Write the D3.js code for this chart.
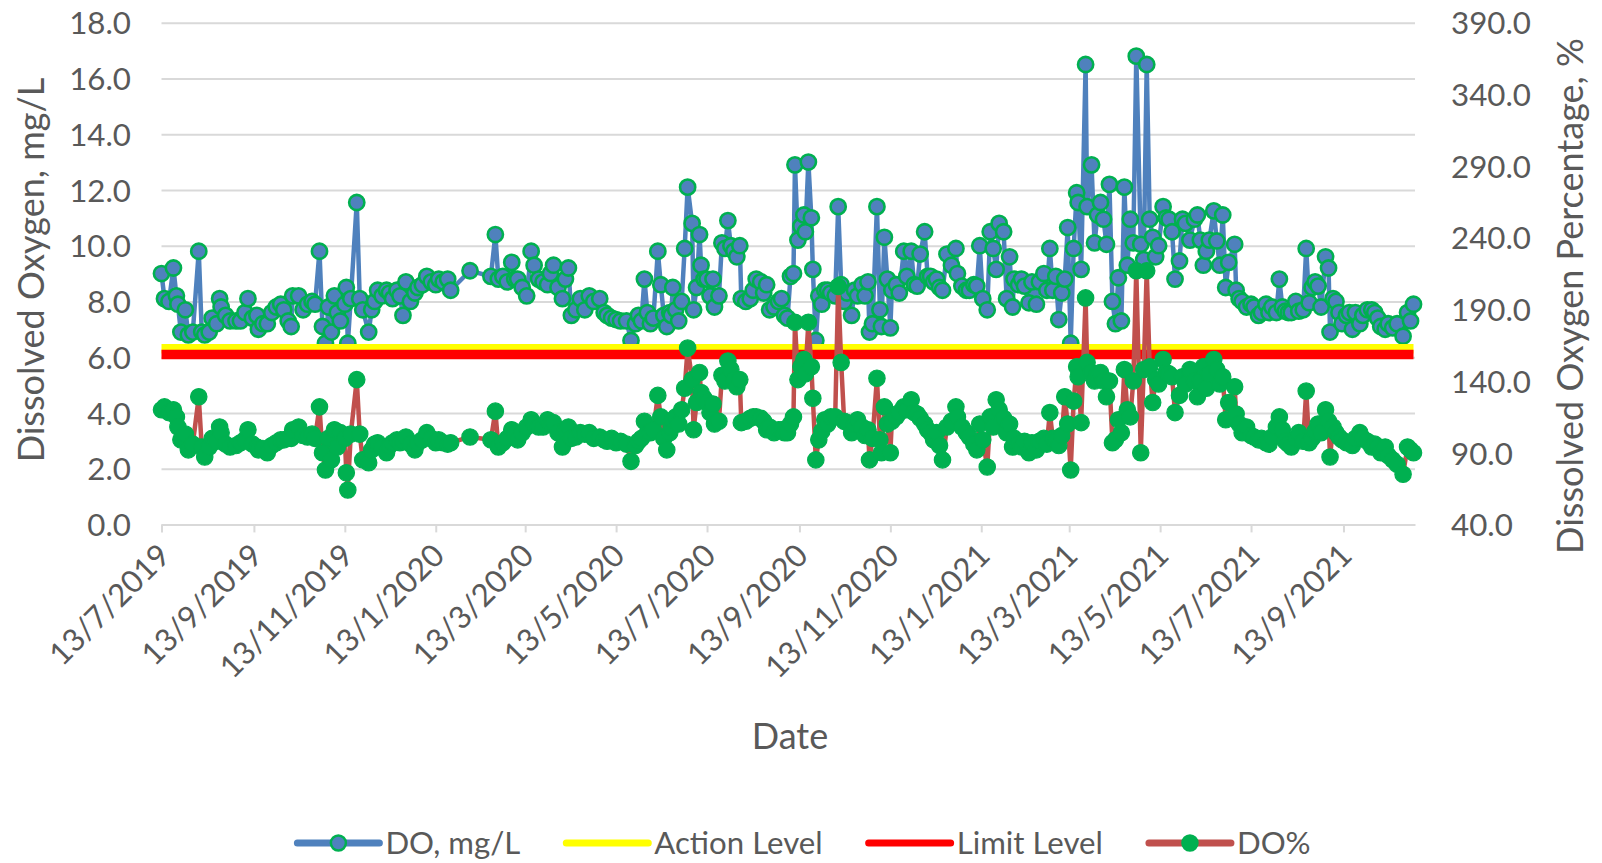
<!DOCTYPE html>
<html>
<head>
<meta charset="utf-8">
<script src="https://cdn.jsdelivr.net/npm/d3@7"></script>
<style>
  html, body { margin: 0; padding: 0; background: #ffffff; }
  svg { display: block; }
</style>
</head>
<body>
<svg id="chart" width="1602" height="863"></svg>
<script>
// ---- Monitoring record: dissolved oxygen (mg/L) and saturation (%) ----
const firstSampleDate = "2019-07-13";
const axisEndDate = "2021-10-31";

// Sampling days, counted from the first sample date
const sampleDayOffsets = [
  0,2,5,8,10,11,13,16,18,21,
  25,27,29,32,34,37,39,40,43,46,
  50,53,56,58,61,64,65,68,71,74,
  77,80,82,85,87,88,92,95,98,101,
  103,106,108,110,112,114,116,118,120,123,
  124,125,127,131,133,135,139,141,143,145,
  148,151,153,155,158,160,162,164,167,170,
  172,175,178,181,184,186,189,192,194,207,
  221,224,226,229,232,235,237,239,242,245,
  248,250,253,256,259,261,263,266,269,271,
  273,275,278,281,284,287,290,294,297,299,
  302,305,308,312,315,318,320,322,324,326,
  328,330,333,335,337,339,341,342,343,345,
  347,349,351,353,356,357,359,361,362,364,
  366,368,370,371,374,376,378,380,382,384,
  386,388,389,392,395,397,399,402,404,406,
  408,411,414,416,418,420,422,424,425,427,
  429,431,432,434,436,437,439,441,443,445,
  447,449,452,454,456,458,460,463,465,467,
  470,472,474,475,477,480,482,483,485,487,
  489,490,493,495,498,500,503,505,507,509,
  512,514,516,518,520,522,524,527,530,533,
  534,537,540,542,545,547,549,551,554,556,
  558,560,562,565,567,569,571,572,575,577,
  579,582,584,587,589,592,594,596,598,600,
  602,604,606,608,610,612,614,615,617,620,
  621,624,626,628,630,632,634,636,638,640,
  642,644,646,648,650,652,654,657,659,661,
  663,665,667,669,672,674,676,678,680,683,
  685,687,690,693,695,697,699,701,703,706,
  708,710,712,714,716,720,721,723,725,728,
  731,733,736,738,741,743,745,748,750,752,
  754,756,758,761,763,766,768,770,772,774,
  776,778,781,783,784,786,788,790,792,795,
  797,799,801,804,806,809,812,814,816,818,
  821,823,826,829,833,836,838,840
];

// DO, mg/L
const doMgL = [
  9.0,8.1,8.0,9.2,8.2,7.9,6.9,7.7,6.8,6.9,
  9.8,6.9,6.8,6.9,7.4,7.2,8.1,7.8,7.5,7.3,
  7.3,7.3,7.6,8.1,7.4,7.5,7.0,7.2,7.2,7.6,
  7.8,7.9,7.7,7.3,7.1,8.2,8.2,7.7,7.9,8.0,
  7.9,9.8,7.1,6.5,7.8,6.9,8.2,7.6,7.3,7.9,
  8.5,6.5,8.1,11.55,8.1,7.7,6.9,7.7,8.0,8.4,
  8.2,8.4,8.3,8.1,8.4,8.2,7.5,8.7,8.0,8.3,
  8.5,8.6,8.9,8.7,8.6,8.8,8.7,8.8,8.4,9.1,
  8.9,10.4,8.8,8.9,8.7,9.4,8.8,8.8,8.5,8.2,
  9.8,9.3,8.8,8.7,8.6,9.0,9.3,8.5,8.1,8.8,
  9.2,7.5,7.7,8.1,7.7,8.2,8.0,8.1,7.6,7.5,
  7.4,7.35,7.3,7.3,6.6,7.2,7.5,7.3,8.8,7.6,
  7.2,7.4,9.8,8.6,7.5,7.1,7.6,7.5,8.5,7.7,
  7.3,8.0,9.9,12.1,10.8,7.7,8.5,10.4,9.3,8.8,
  8.8,8.2,8.8,7.8,8.2,10.1,9.9,10.9,10.0,9.8,
  9.6,10.0,8.1,8.0,8.1,8.4,8.8,8.7,8.3,8.6,
  7.7,7.8,8.0,8.1,7.5,7.4,8.9,9.0,12.9,10.2,
  10.7,11.1,10.5,13.0,11.0,9.15,6.6,8.2,7.9,8.4,
  8.4,8.3,8.2,11.4,8.6,8.0,8.3,7.5,8.4,8.2,
  8.6,8.2,8.7,6.9,7.2,11.4,7.7,7.1,10.3,8.8,
  7.05,8.4,8.6,8.3,9.8,8.9,9.8,8.6,8.55,9.7,
  10.5,8.9,8.9,8.7,8.8,8.5,8.4,9.7,9.3,9.9,
  9.0,8.55,8.4,8.4,8.6,8.55,10.0,8.1,7.7,10.5,
  9.9,9.15,10.8,10.5,8.1,9.6,7.8,8.8,8.6,8.8,
  8.55,7.95,8.7,7.9,8.7,9.0,8.4,9.9,8.4,8.9,
  7.35,8.3,8.8,10.65,6.5,9.9,11.9,11.55,9.15,16.5,
  11.4,12.9,10.1,11.1,11.55,10.95,10.05,12.2,8.0,7.2,
  8.85,7.3,12.1,9.3,10.95,10.1,16.8,10.05,9.5,16.5,
  10.95,10.3,9.6,10.0,11.4,11.0,10.95,10.5,8.8,9.45,
  10.95,10.8,10.2,10.95,11.1,10.2,9.3,9.8,10.2,11.25,
  10.17,9.3,11.1,8.5,9.4,10.05,8.4,8.1,8.0,7.8,
  7.9,7.8,7.5,7.6,7.9,7.6,7.8,7.6,8.8,7.8,
  7.65,7.6,7.6,8.0,7.65,7.7,9.9,7.95,8.5,8.7,
  8.55,7.8,9.6,9.2,6.9,8.1,8.0,7.6,7.2,7.5,
  7.6,7.0,7.6,7.2,7.5,7.7,7.7,7.6,7.4,7.1,
  7.0,7.2,7.05,7.2,6.75,7.6,7.3,7.9
];

// DO%, saturation
const doPercent = [
  120,122,118,120,115,108,99,103,92,96,
  129,94,87,94,100,98,108,104,96,94,
  95,97,99,106,96,94,92,93,90,95,
  97,99,99,100,100,106,108,102,101,103,
  100,122,90,78,100,85,106,94,104,100,
  76,64,103,141,103,85,83,92,96,97,
  94,90,95,97,99,97,98,101,96,92,
  97,99,104,100,97,99,97,96,97,101,
  99,119,94,97,100,106,103,99,104,108,
  113,110,108,108,113,110,111,104,94,106,
  108,100,101,104,103,104,100,101,99,98,
  100,97,98,96,84,95,98,100,112,104,
  104,106,130,115,100,92,104,108,113,115,
  110,120,135,163,141,106,125,146,132,128,
  125,118,124,110,112,144,140,154,148,141,
  136,141,111,112,114,115,115,114,112,106,
  108,104,106,106,104,104,110,115,181,141,
  150,155,145,181,150,128,85,99,105,113,
  110,115,115,206,153,112,111,104,110,113,
  108,102,106,85,100,142,99,90,122,110,
  90,112,115,118,122,120,127,118,117,114,
  110,106,104,99,104,95,85,108,112,122,
  115,108,104,101,96,92,110,99,80,115,
  108,127,120,114,104,110,94,100,96,94,
  98,90,97,92,98,100,96,118,100,98,
  95,102,129,110,78,126,150,143,111,198,
  153,146,140,145,146,140,129,140,97,99,
  113,104,148,120,115,140,217,90,148,217,
  150,125,141,138,155,146,145,143,118,130,
  143,138,148,140,129,140,150,135,145,155,
  148,138,143,113,125,136,117,110,104,108,
  102,101,99,100,97,96,101,108,115,106,
  98,96,94,100,104,98,133,97,100,105,
  110,104,120,112,87,108,104,101,99,97,
  97,95,100,104,100,98,94,96,94,90,
  94,88,85,82,75,94,92,90
];

// Compliance levels, mg/L
const actionLevel = 6.3;
const limitLevel = 6.1;

// Axis ticks
const leftTicks = [0, 2, 4, 6, 8, 10, 12, 14, 16, 18];
const rightTicks = [40, 90, 140, 190, 240, 290, 340, 390];
const dateTickLabels = [
  "13/7/2019", "13/9/2019", "13/11/2019", "13/1/2020", "13/3/2020", "13/5/2020",
  "13/7/2020", "13/9/2020", "13/11/2020", "13/1/2021", "13/3/2021", "13/5/2021",
  "13/7/2021", "13/9/2021"
];

// ---- Layout ----
const svg = d3.select("#chart");
const FONT = "Lato, 'Open Sans', 'DejaVu Sans', sans-serif";
const TEXT = "#595959";
const GRID = "#D9D9D9";
const plot = { left: 161.5, right: 1415, top: 22.7, bottom: 524.4 };

// font size that gives a sample string a given rendered width
function fitSize(sample, target, base = 30) {
  const t = svg.append("text").attr("font-family", FONT).attr("font-size", base).text(sample);
  const w = t.node().getComputedTextLength();
  t.remove();
  return base * target / w;
}
const tickSize = fitSize("390.0", 80);
const titleSize = fitSize("Dissolved Oxygen Percentage, %", 516);
const legendSize = fitSize("DO, mg/L", 135);

const parseIso = d3.utcParse("%Y-%m-%d");
const parseDmy = d3.utcParse("%d/%m/%Y");
const start = parseIso(firstSampleDate);
const n = Math.min(sampleDayOffsets.length, doMgL.length, doPercent.length);
const rows = d3.range(n).map(i => ({
  date: d3.utcDay.offset(start, sampleDayOffsets[i]),
  mg: doMgL[i],
  pct: doPercent[i]
}));

const x = d3.scaleUtc().domain([start, parseIso(axisEndDate)]).range([plot.left, plot.right]);
const yL = d3.scaleLinear().domain([0, 18]).range([plot.bottom, plot.top]);
const yR = d3.scaleLinear().domain([40, 390]).range([plot.bottom, plot.top]);

// ---- Gridlines and left axis ----
const gLeft = svg.append("g").attr("transform", `translate(${plot.left},0)`)
  .call(d3.axisLeft(yL).tickValues(leftTicks).tickFormat(d3.format(".1f"))
    .tickSize(-(plot.right - plot.left)).tickPadding(30.5));
gLeft.select(".domain").remove();
gLeft.selectAll(".tick line").attr("stroke", GRID).attr("stroke-width", 2);
gLeft.selectAll(".tick text").attr("font-family", FONT).attr("font-size", tickSize)
  .attr("fill", TEXT).attr("dy", "0.36em");

// ---- Right axis ----
const gRight = svg.append("g").attr("transform", `translate(${plot.right},0)`)
  .call(d3.axisRight(yR).tickValues(rightTicks).tickFormat(d3.format(".1f"))
    .tickSize(0).tickPadding(36));
gRight.select(".domain").remove();
gRight.selectAll(".tick text").attr("font-family", FONT).attr("font-size", tickSize)
  .attr("fill", TEXT).attr("dy", "0.36em");

// ---- Date axis ----
const tickDates = dateTickLabels.map(parseDmy);
const gBottom = svg.append("g").attr("transform", `translate(0,${plot.bottom})`)
  .call(d3.axisBottom(x).tickValues(tickDates).tickFormat((d, i) => dateTickLabels[i])
    .tickSizeInner(8).tickSizeOuter(0));
gBottom.select(".domain").attr("stroke", GRID).attr("stroke-width", 2);
gBottom.selectAll(".tick line").attr("stroke", GRID).attr("stroke-width", 2);
gBottom.selectAll(".tick text")
  .attr("font-family", FONT).attr("font-size", tickSize).attr("fill", TEXT)
  .attr("x", 0).attr("y", 0).attr("dy", "0.36em")
  .attr("text-anchor", "end")
  .attr("transform", "translate(2,25) rotate(-45)");

// ---- Series ----
const lineMg = d3.line().x(d => x(d.date)).y(d => yL(d.mg));
const linePct = d3.line().x(d => x(d.date)).y(d => yR(d.pct));

// DO, mg/L
svg.append("path").datum(rows).attr("d", lineMg)
  .attr("fill", "none").attr("stroke", "#4F81BD").attr("stroke-width", 4.5)
  .attr("stroke-linejoin", "round");
svg.append("g").selectAll("circle").data(rows).join("circle")
  .attr("cx", d => x(d.date)).attr("cy", d => yL(d.mg)).attr("r", 7.6)
  .attr("fill", "#4F81BD").attr("stroke", "#00B050").attr("stroke-width", 2.6);

// Action and limit levels
const span = [rows[0].date, rows[rows.length - 1].date];
[[actionLevel, "#FFFF00"], [limitLevel, "#FF0000"]].forEach(([v, c]) => {
  svg.append("path")
    .datum(span)
    .attr("d", d3.line().x(d => x(d)).y(() => yL(v)))
    .attr("stroke", c).attr("stroke-width", 9.5).attr("fill", "none");
});

// DO%
svg.append("path").datum(rows).attr("d", linePct)
  .attr("fill", "none").attr("stroke", "#C0504D").attr("stroke-width", 4.5)
  .attr("stroke-linejoin", "round");
svg.append("g").selectAll("circle").data(rows).join("circle")
  .attr("cx", d => x(d.date)).attr("cy", d => yR(d.pct)).attr("r", 8.2)
  .attr("fill", "#00B050").attr("stroke", "#00B050").attr("stroke-width", 1.2);

// ---- Axis titles ----
svg.append("text")
  .attr("transform", "translate(31,270) rotate(-90)")
  .attr("text-anchor", "middle").attr("dy", "0.36em")
  .attr("font-family", FONT).attr("font-size", titleSize).attr("fill", TEXT)
  .text("Dissolved Oxygen, mg/L");
svg.append("text")
  .attr("transform", "translate(1570,296) rotate(-90)")
  .attr("text-anchor", "middle").attr("dy", "0.36em")
  .attr("font-family", FONT).attr("font-size", titleSize).attr("fill", TEXT)
  .text("Dissolved Oxygen Percentage, %");
svg.append("text")
  .attr("x", 790).attr("y", 736).attr("dy", "0.36em")
  .attr("text-anchor", "middle")
  .attr("font-family", FONT).attr("font-size", titleSize).attr("fill", TEXT)
  .text("Date");

// ---- Legend ----
const legendItems = [
  { label: "DO, mg/L", stroke: "#4F81BD", marker: { fill: "#4F81BD", stroke: "#00B050" } },
  { label: "Action Level", stroke: "#FFFF00" },
  { label: "Limit Level", stroke: "#FF0000" },
  { label: "DO%", stroke: "#C0504D", marker: { fill: "#00B050", stroke: "#00B050" } }
];
const legend = svg.append("g");
const sampleLen = 82, textGap = 6, itemGap = 46, legendY = 843;
let cursor = 0;
legendItems.forEach(item => {
  const g = legend.append("g").attr("transform", `translate(${cursor},${legendY})`);
  g.append("line").attr("x1", 0).attr("x2", sampleLen).attr("y1", 0).attr("y2", 0)
    .attr("stroke", item.stroke).attr("stroke-width", 7).attr("stroke-linecap", "round");
  if (item.marker) {
    g.append("circle").attr("cx", sampleLen / 2).attr("cy", 0).attr("r", 7.5)
      .attr("fill", item.marker.fill).attr("stroke", item.marker.stroke).attr("stroke-width", 2.5);
  }
  const t = g.append("text").attr("x", sampleLen + textGap).attr("y", 0).attr("dy", "0.36em")
    .attr("font-family", FONT).attr("font-size", legendSize).attr("fill", TEXT)
    .text(item.label);
  cursor += sampleLen + textGap + t.node().getComputedTextLength() + itemGap;
});
const legendWidth = cursor - itemGap;
legend.attr("transform", `translate(${804 - legendWidth / 2},0)`);
</script>
</body>
</html>
